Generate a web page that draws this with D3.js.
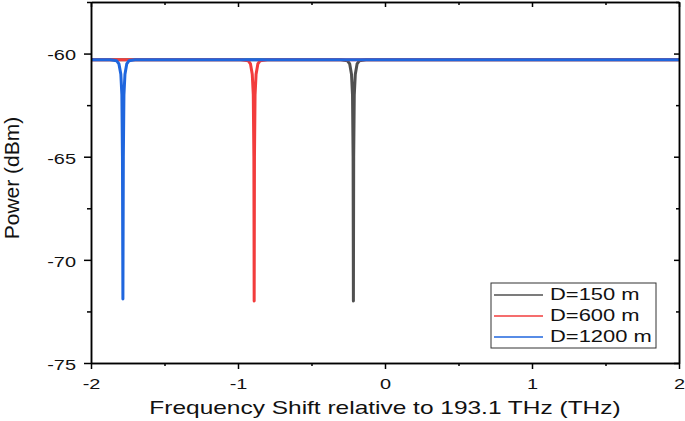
<!DOCTYPE html>
<html>
<head>
  <script src="https://cdn.jsdelivr.net/npm/d3@7"></script>
  <style>
    body { margin: 0; background: #fff; font-family: "Liberation Sans", Arial, sans-serif; }
    .line { fill: none; stroke-width: 3; stroke-linejoin: round; }
  </style>
</head>
<body>
  <div id="chart"></div>
  <script>
    // [frequency shift (THz), power (dBm)]
    const d150 = [
      [-2, -60.3], [-0.30, -60.3], [-0.255, -60.35], [-0.24, -60.5], [-0.228, -61.0],
      [-0.221, -62.0], [-0.217, -65.0], [-0.215, -72.0], [-0.213, -65.0], [-0.209, -62.0],
      [-0.202, -61.0], [-0.19, -60.5], [-0.175, -60.35], [-0.13, -60.3], [2, -60.3]
    ];
    const d600 = [
      [-2, -60.3], [-0.98, -60.3], [-0.93, -60.35], [-0.915, -60.5], [-0.903, -61.0],
      [-0.896, -62.0], [-0.892, -65.0], [-0.89, -72.0], [-0.888, -65.0], [-0.884, -62.0],
      [-0.877, -61.0], [-0.865, -60.5], [-0.85, -60.35], [-0.80, -60.3], [2, -60.3]
    ];
    const d1200 = [
      [-2, -60.3], [-1.87, -60.3], [-1.825, -60.35], [-1.81, -60.5], [-1.797, -61.0],
      [-1.79, -62.0], [-1.786, -65.0], [-1.783, -71.9], [-1.78, -65.0], [-1.776, -62.0],
      [-1.769, -61.0], [-1.757, -60.5], [-1.742, -60.35], [-1.70, -60.3], [2, -60.3]
    ];
    const seriesNames = ["D=150 m", "D=600 m", "D=1200 m"];
    const seriesColors = ["#505050", "#f23c3c", "#1f66de"];
    const seriesData = [d150, d600, d1200];
    const xTicks = [-2, -1, 0, 1, 2];
    const xMinor = [-1.5, -0.5, 0.5, 1.5];
    const yTicks = [-75, -70, -65, -60];
    const yMinor = [-72.5, -67.5, -62.5, -57.5];

    const W = 685, H = 421;
    const m = { left: 91, right: 679, top: 2, bottom: 363 };
    const SX = 1.33; // the reference text is drawn wide

    const svg = d3.select("#chart").append("svg")
      .attr("width", W).attr("height", H);

    const x = d3.scaleLinear().domain([-2, 2]).range([m.left, m.right]);
    const y = d3.scaleLinear().domain([-75, -57.5]).range([m.bottom, m.top]);

    const line = d3.line().x(d => x(d[0])).y(d => y(d[1]));

    const plot = svg.append("g");
    seriesData.forEach((data, i) => {
      plot.append("path")
        .datum(data)
        .attr("class", "line")
        .attr("stroke", seriesColors[i])
        .attr("d", line);
    });

    // widen a text around its anchor point
    function stretch(t, k) {
      t.each(function () {
        const el = d3.select(this);
        const ax = +el.attr("x") || 0, ay = +el.attr("y") || 0;
        el.attr("transform", `translate(${ax},${ay}) scale(${k},1) translate(${-ax},${-ay})`);
      });
    }

    const fmt = d => d3.format("d")(d).replace("−", "-");
    const style = g => {
      g.select(".domain").attr("stroke", "#000").attr("stroke-width", 1.5);
      g.selectAll(".tick line").attr("stroke", "#000").attr("stroke-width", 1.5);
      g.selectAll("text").attr("fill", "#111").style("font-size", "15px")
        .style("font-family", "'Liberation Sans', Arial, sans-serif");
    };

    svg.append("g").attr("transform", `translate(0,${m.bottom})`)
      .call(d3.axisBottom(x).tickValues(xTicks).tickFormat(fmt).tickSize(6).tickSizeOuter(0))
      .call(style)
      .call(g => g.selectAll("text").attr("y", 26).attr("dy", null).call(stretch, SX));
    svg.append("g").attr("transform", `translate(0,${m.bottom})`)
      .call(d3.axisBottom(x).tickValues(xMinor).tickFormat("").tickSize(3).tickSizeOuter(0))
      .call(style);

    svg.append("g").attr("transform", `translate(${m.left},0)`)
      .call(d3.axisLeft(y).tickValues(yTicks).tickFormat(fmt).tickSize(7).tickSizeOuter(0))
      .call(style)
      .call(g => g.selectAll("text").attr("x", -15).attr("y", 0).attr("dy", "0.42em").call(stretch, SX));
    svg.append("g").attr("transform", `translate(${m.left},0)`)
      .call(d3.axisLeft(y).tickValues(yMinor).tickFormat("").tickSize(4).tickSizeOuter(0))
      .call(style);

    // top and right: inward ticks
    svg.append("g").attr("transform", `translate(0,${m.top})`)
      .call(d3.axisBottom(x).tickValues(xTicks).tickFormat("").tickSize(5).tickSizeOuter(0))
      .call(style);
    svg.append("g").attr("transform", `translate(0,${m.top})`)
      .call(d3.axisBottom(x).tickValues(xMinor).tickFormat("").tickSize(3).tickSizeOuter(0))
      .call(style);
    svg.append("g").attr("transform", `translate(${m.right},0)`)
      .call(d3.axisLeft(y).tickValues(yTicks).tickFormat("").tickSize(5).tickSizeOuter(0))
      .call(style);
    svg.append("g").attr("transform", `translate(${m.right},0)`)
      .call(d3.axisLeft(y).tickValues(yMinor).tickFormat("").tickSize(3).tickSizeOuter(0))
      .call(style);

    // axis titles
    svg.append("text")
      .attr("x", 385).attr("y", 414)
      .attr("text-anchor", "middle")
      .style("font-size", "18px").attr("fill", "#111")
      .text("Frequency Shift relative to 193.1 THz (THz)")
      .call(stretch, 1.36);
    svg.append("text")
      .attr("transform", "translate(19,178) rotate(-90)")
      .attr("text-anchor", "middle")
      .style("font-size", "21px").attr("fill", "#111")
      .text("Power (dBm)");

    // legend
    const lg = svg.append("g").attr("transform", "translate(491,283)");
    lg.append("rect").attr("width", 165).attr("height", 65)
      .attr("fill", "#fff").attr("stroke", "#333").attr("stroke-width", 1);
    seriesNames.forEach((name, i) => {
      const yy = 12 + i * 21;
      lg.append("line").attr("x1", 3).attr("x2", 52).attr("y1", yy).attr("y2", yy)
        .attr("stroke", seriesColors[i]).attr("stroke-width", 1.5);
      lg.append("text").attr("x", 59).attr("y", yy + 5.5)
        .style("font-size", "16.5px").attr("fill", "#111").text(name)
        .call(stretch, SX);
    });
  </script>
</body>
</html>
